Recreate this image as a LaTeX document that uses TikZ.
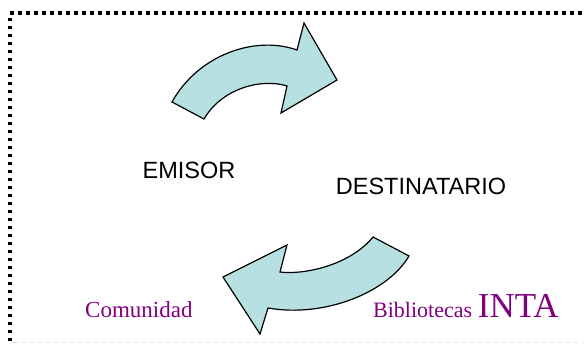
\documentclass[tikz,border=0pt]{standalone}
\usepackage{fontspec}
\setmainfont{Liberation Serif}
\newfontfamily\arialfont{Liberation Sans}
\usepackage{tikz}
\usetikzlibrary{positioning}

\definecolor{flecha}{RGB}{183,224,227}
\definecolor{morado}{RGB}{128,0,128}

\begin{document}
\begin{tikzpicture}[x=1pt, y=-1pt,
    actor/.style = {inner sep=0pt, font=\arialfont\fontsize{23.5}{26}\selectfont},
    lugar/.style = {inner sep=0pt, anchor=base west, text=morado, font=\fontsize{23}{26}\selectfont},
    bloque/.style = {draw=black, line width=1.2pt, fill=flecha, line join=miter}]
            \useasboundingbox (0,0) rectangle (586,343);

            % Frame
            \draw[line width=3.5pt, dash pattern=on 3.5pt off 4.5pt] (10,341) -- (10,13) -- (583,13);
            \draw[gray!25, line width=1pt, dash pattern=on 3pt off 5pt] (14,342) -- (583,342);

            % Nodes
            \node[actor] (emisor) at (189,170) {EMISOR};
            \node[actor] (destinatario) at (421,186) {DESTINATARIO};
            \node[lugar] (comunidad) at (85,317) {Comunidad};
            \node[lugar] (bibliotecas) at (373,317) {{\fontsize{22}{24}\selectfont Bibliotecas} {\fontsize{35}{38}\selectfont INTA}};

            % Arrows
            \draw[bloque] (172,102) .. controls (198,55) and (255,35) .. (297,50)
                -- (304,23) -- (337,80) -- (281,113) -- (287,86)
                .. controls (262,78) and (222,88) .. (204,119) -- cycle;
            \draw[bloque] (373,237) .. controls (350,265) and (305,275) .. (280,272)
                -- (287,245) -- (223,277) -- (260,334) -- (268,308)
                .. controls (325,318) and (388,292) .. (409,256) -- cycle;

        \end{tikzpicture}
\end{document}
